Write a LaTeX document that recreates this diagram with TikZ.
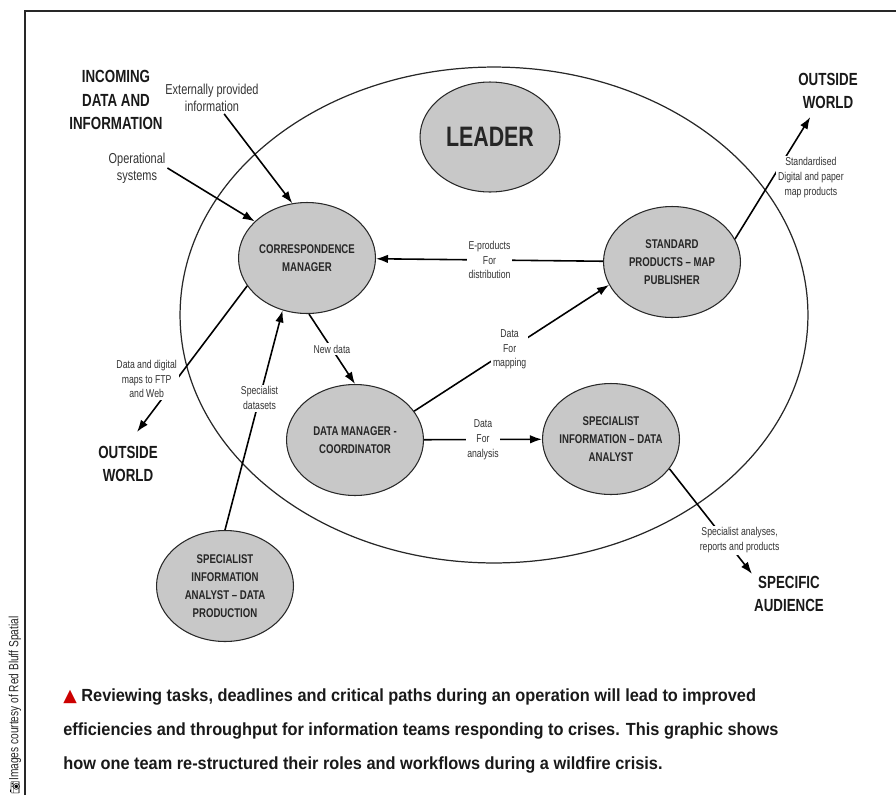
\documentclass[tikz,border=0pt]{standalone}
\usepackage{fontspec}
\setmainfont{Liberation Sans}
\newfontfamily\narrowfont[FakeStretch=0.76]{Liberation Sans}
\newfontfamily\capfont[FakeStretch=0.93]{Liberation Sans}
\newfontfamily\symfont{DejaVu Sans}
\newfontfamily\emojifont{Noto Emoji}
\usetikzlibrary{shapes.geometric,arrows.meta}

\definecolor{rolefill}{RGB}{200,200,200}
\definecolor{inkgray}{RGB}{40,40,40}
\definecolor{capred}{RGB}{204,0,0}

\tikzstyle{team} = [ellipse, draw=inkgray, line width=0.7pt, minimum width=12.56cm, minimum height=9.92cm]
\tikzstyle{role} = [ellipse, draw=inkgray, line width=0.6pt, fill=rolefill, minimum width=2.74cm, minimum height=2.22cm, inner xsep=-0.2cm, inner ysep=0pt, align=center, text=black!85, font=\narrowfont\bfseries\fontsize{7.2}{10.2}\selectfont]
\tikzstyle{head} = [align=center, inner sep=1pt, text=black!90, font=\narrowfont\bfseries\fontsize{10}{13.4}\selectfont]
\tikzstyle{inlbl} = [align=center, inner sep=1pt, text=black!80, font=\narrowfont\fontsize{8.2}{9.7}\selectfont]
\tikzstyle{smlbl} = [align=center, inner sep=1pt, text=black!80, font=\narrowfont\fontsize{6.5}{8.4}\selectfont]
\tikzstyle{arr} = [-{Latex[length=2.4mm,width=1.7mm]}, line width=0.9pt]
\tikzstyle{caption} = [align=left, inner sep=0pt, text=black!90, font=\capfont\bfseries\fontsize{10}{19.3}\selectfont]
\tikzstyle{credit} = [inner sep=0pt, text=black!85, font=\narrowfont\fontsize{7.6}{8}\selectfont]

\begin{document}
\begin{tikzpicture}[x=0.02cm, y=-0.02cm]
\useasboundingbox (0,0) rectangle (896,795);
% frame
\draw[line width=1.1pt, inkgray] (25,795) -- (25,11) -- (896,11);

\node[team] (team) at (494,315) {};

% roles
\node[role, minimum width=2.8cm, minimum height=2.2cm, font=\narrowfont\bfseries\fontsize{16}{18}\selectfont] (lead) at (490,137) {LEADER};
\node[role] (cm) at (307,258) {CORRESPONDENCE\\MANAGER};
\node[role] (std) at (672,262) {STANDARD\\PRODUCTS – MAP\\PUBLISHER};
\node[role] (dm) at (355,440) {DATA MANAGER -\\COORDINATOR};
\node[role] (sia) at (611,439) {SPECIALIST\\INFORMATION – DATA\\ANALYST};
\node[role] (dp) at (225,586) {SPECIALIST\\INFORMATION\\ANALYST – DATA\\PRODUCTION};

% outside
\node[head] (incoming) at (116,100) {INCOMING\\DATA AND\\INFORMATION};
\node[head] (outw1) at (128,464) {OUTSIDE\\WORLD};
\node[head] (outw2) at (828,91) {OUTSIDE\\WORLD};
\node[head] (audience) at (789,594) {SPECIFIC\\AUDIENCE};

\node[inlbl] (extlbl) at (212,98) {Externally provided\\information};
\node[inlbl] (oplbl) at (137,168) {Operational\\systems};

% flows
\draw[arr] (extlbl) -- (cm.105);
\draw[arr] (oplbl.east) -- (cm.145);
\draw[arr] (std) -- node[smlbl, fill=white] {E-products\\For\\distribution} (cm);
\draw[arr] (cm.-88) -- node[smlbl, fill=white] {New data} (dm.north);
\draw[arr] (dm.26) -- node[smlbl, fill=white, pos=0.49] {Data\\For\\mapping} (std.200);
\draw[arr] (dm) -- node[smlbl, fill=white] {Data\\For\\analysis} (sia);
\draw[arr] (dp.north) -- node[smlbl, fill=white, pos=0.6] {Specialist\\datasets} (cm.-115);
\draw[arr, shorten >=0.3cm] (cm.205) -- node[smlbl, fill=white, pos=0.59, anchor=east, xshift=0.05cm] {Data and digital\\maps to FTP\\and Web} (outw1.north);
\draw[arr, shorten >=0.14cm] (std.20) -- node[smlbl, fill=white, pos=0.48, xshift=0.76cm] {Standardised\\Digital and paper\\map products} (outw2.-125);
\draw[arr] (sia.-27) -- node[smlbl, fill=white, pos=0.68, xshift=0.28cm] {Specialist analyses,\\reports and products} (audience.north west);

% caption
\node[caption, anchor=base west] (cap) at (63,769) {{\symfont\color{capred}▲} Reviewing tasks, deadlines and critical paths during an operation will lead to improved\\efficiencies and throughput for information teams responding to crises. This graphic shows\\how one team re-structured their roles and workflows during a wildfire crisis.};

% credit
\node[credit, rotate=90, anchor=west] (credit) at (15,781) {Images courtesy of Red Bluff Spatial};
\node[rotate=90, inner sep=0pt, font=\emojifont\fontsize{6}{6}\selectfont] (cam) at (15,788) {📷};
\end{tikzpicture}
\end{document}
